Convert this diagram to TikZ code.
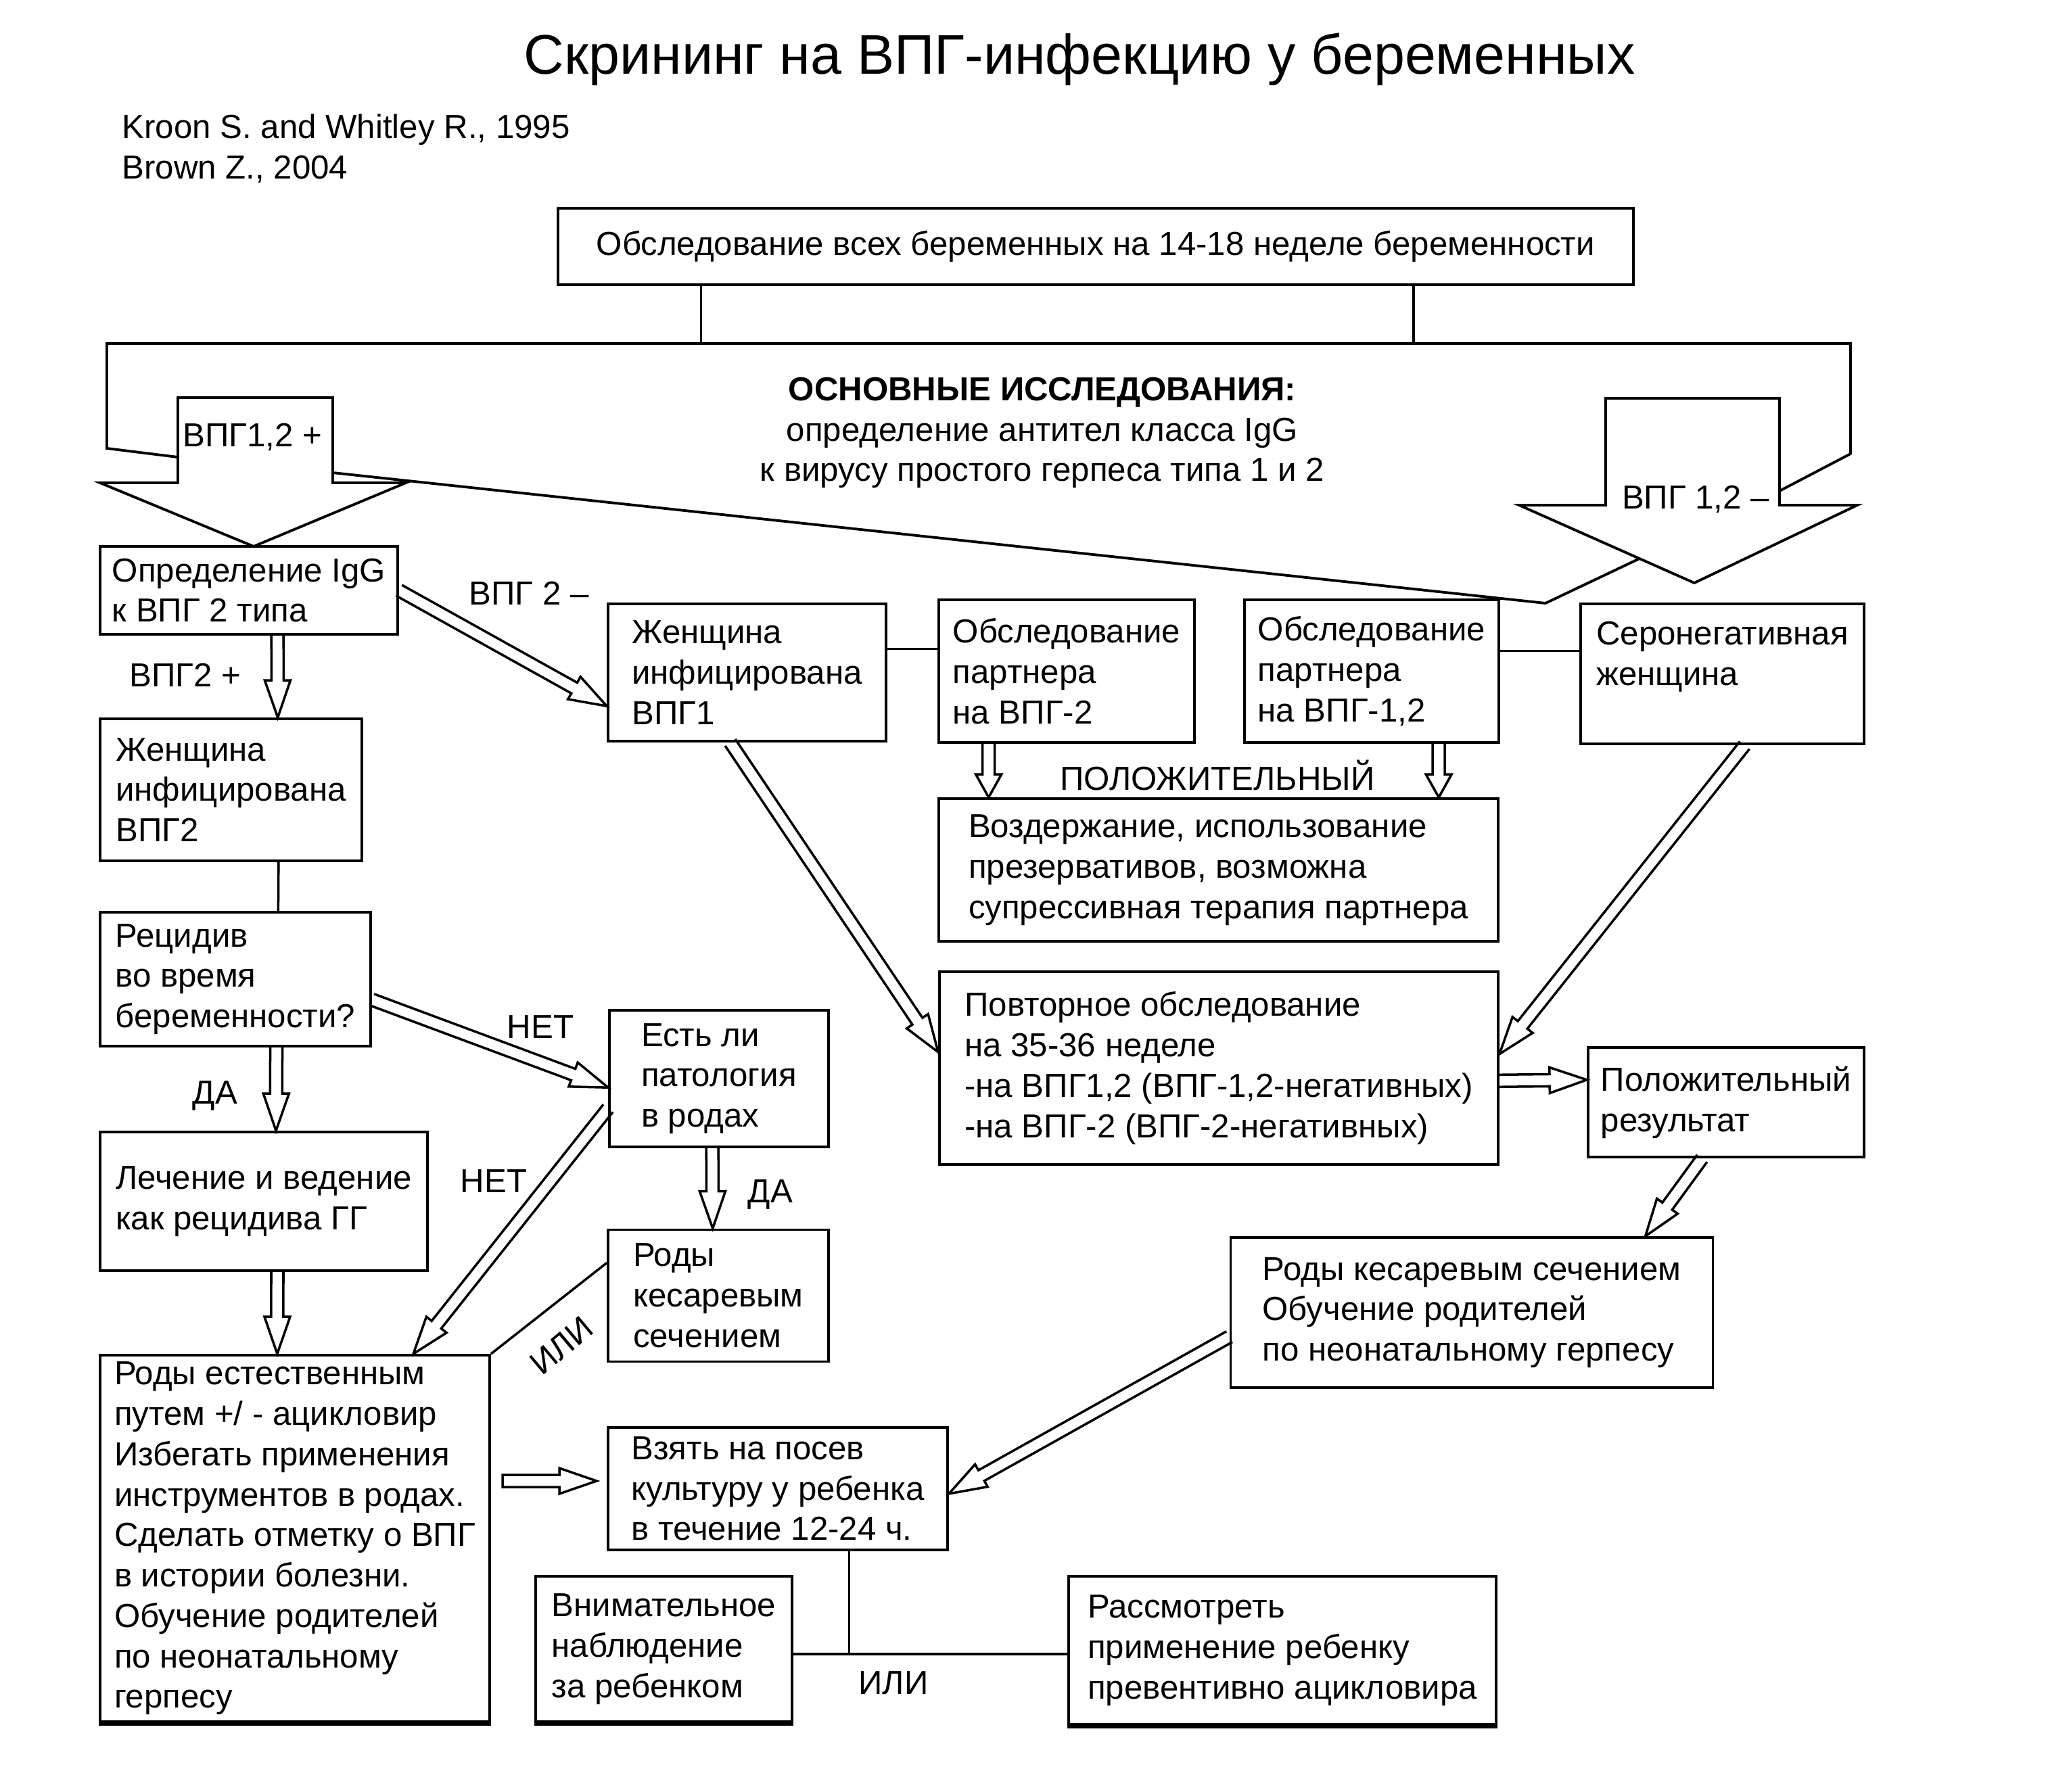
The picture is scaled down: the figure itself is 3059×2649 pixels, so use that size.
\documentclass[tikz,border=0pt]{standalone}
\usepackage{fontspec}
\setmainfont{Liberation Sans}
\usetikzlibrary{calc}

\tikzset{
  bx/.style={draw, line width=1.1pt, align=left, inner xsep=1.5mm, inner ysep=0.5mm},
  sz/.style 2 args={minimum width=#1mm, minimum height=#2mm},
  lbl/.style={inner sep=0pt},
  conn/.style={line width=1pt},
  fatline/.style={line width=1pt, line join=miter},
  frameline/.style={line width=1.1pt, line join=miter},
}
\newcommand{\headlen}{5.5mm}
% hollow arrow: [closing]{from}{to}
\newcommand{\fatarrow}[3][]{%
  \coordinate (fa-h) at ($(#3)!\headlen!(#2)$);
  \draw[fatline] ($(#2)!0.9mm!90:(#3)$) -- ($(fa-h)!0.9mm!-90:(#2)$) -- ($(fa-h)!1.9mm!-90:(#2)$)
    -- (#3) -- ($(fa-h)!1.9mm!90:(#2)$) -- ($(fa-h)!0.9mm!90:(#2)$) -- ($(#2)!0.9mm!-90:(#3)$) #1;}

\begin{document}
\begin{tikzpicture}[x=0.1mm,y=-0.1mm,font=\fontsize{14}{17}\selectfont]
\useasboundingbox (0,0) rectangle (3059,2649);

\node[lbl,font=\fontsize{23.5}{28}\selectfont] (title) at (1596,88) {Скрининг на ВПГ-инфекцию у беременных};
\node[lbl,anchor=west,align=left] (refs) at (180,220) {Kroon S. and Whitley R., 1995\\Brown Z., 2004};

% boxes
\node[bx,sz={159}{11.3},align=center] (screen) at (1620,364.5) {Обследование всех беременных на 14-18 неделе беременности};
\node[bx,sz={44}{13}] (igg) at (368,873) {Определение IgG\\к ВПГ 2 типа};
\node[bx,sz={38.7}{21}] (inf2) at (341.5,1168) {Женщина\\инфицирована\\ВПГ2};
\node[bx,sz={40}{19.8}] (recid) at (348,1448) {Рецидив\\во время\\беременности?};
\node[bx,sz={48.4}{20.5}] (treat) at (390,1776.5) {Лечение и ведение\\как рецидива ГГ};
\node[bx,sz={57.6}{54.2}] (vag) at (436,2275) {Роды естественным\\путем +/ - ацикловир\\Избегать применения\\инструментов в родах.\\Сделать отметку о ВПГ\\в истории болезни.\\Обучение родителей\\по неонатальному\\герпесу};
\node[bx,sz={41.1}{20.3}] (inf1) at (1104.5,994.5) {Женщина\\инфицирована\\ВПГ1};
\node[bx,sz={37.8}{21.1}] (part2) at (1577,992.5) {Обследование\\партнера\\на ВПГ-2};
\node[bx,sz={37.6}{21.1}] (part12) at (2028,992.5) {Обследование\\партнера\\на ВПГ-1,2};
\node[bx,sz={41.9}{20.7}] (seroneg) at (2546.5,996.5) {Серонегативная\\женщина\\~};
\node[bx,sz={82.7}{21.1}] (abst) at (1801.5,1286.5) {Воздержание,  использование\\презервативов, возможна\\супрессивная терапия партнера};
\node[bx,sz={82.6}{28.5}] (retest) at (1802,1579.5) {Повторное обследование\\на 35-36 неделе\\-на ВПГ1,2 (ВПГ-1,2-негативных)\\-на ВПГ-2 (ВПГ-2-негативных)};
\node[bx,sz={40.8}{16.2}] (posres) at (2552,1630) {Положительный\\результат};
\node[bx,sz={32.4}{20.2}] (path) at (1063,1595) {Есть ли\\патология\\в родах};
\node[bx,sz={32.6}{19.5}] (ces) at (1062,1916) {Роды\\кесаревым\\сечением};
\node[bx,sz={50.2}{18.1}] (culture) at (1150,2201.5) {Взять на посев\\культуру у ребенка\\в течение 12-24 ч.};
\node[bx,sz={37.9}{21.5}] (watch) at (981.5,2438.5) {Внимательное\\наблюдение\\за ребенком};
\node[bx,sz={63.2}{21.9}] (consider) at (1896,2440.5) {Рассмотреть\\применение ребенку\\превентивно ацикловира};
\node[bx,sz={71.3}{22.2}] (cesr) at (2176,1941) {Роды кесаревым сечением\\Обучение родителей\\по неонатальному герпесу};
\foreach \b in {vag,watch,consider}
  \draw[line width=2.2pt] (\b.south west) -- (\b.south east);

% frame with the two big arrows
\node[lbl,align=center] (basic) at (1541,640) {\textbf{ОСНОВНЫЕ ИССЛЕДОВАНИЯ:}\\определение антител класса IgG\\к вирусу простого герпеса типа 1 и 2};
\coordinate (fl) at (158,508);
\coordinate (fr) at (2736,508);
\draw[conn] ($(screen.south west)!0.134!(screen.south east)$) coordinate (s1) -- (s1 |- fl);
\draw[conn] ($(screen.south west)!0.795!(screen.south east)$) coordinate (s2) -- (s2 |- fl);
\draw[frameline] (263,676) -- (158,663) -- (fl) -- (fr) -- (2736,671) -- (2631,726);
\draw[frameline] (492,699) -- (2285,892) -- (2424,826);
\draw[frameline] (263,588) -- (492,588) -- (492,714) -- (600,714) -- (375,808) -- (148,714) -- (263,714) -- cycle;
\draw[frameline] (2374,589) -- (2631,589) -- (2631,747) -- (2746,747) -- (2505,862) -- (2246,747) -- (2374,747) -- cycle;
\node[lbl] (pos12) at (373,646) {ВПГ1,2 +};
\node[lbl] (neg12) at (2507,738) {ВПГ 1,2 –};

% plain connectors
\draw[conn] ($(inf2.south west)!0.68!(inf2.south east)$) -- ($(recid.north west)!0.657!(recid.north east)$);
\draw[conn] ($(inf1.north east)!0.33!(inf1.south east)$) coordinate (l1) -- (l1 -| part2.west);
\draw[conn] ($(part12.north east)!0.36!(part12.south east)$) coordinate (l2) -- (l2 -| seroneg.west);
\draw[conn] (vag.north east) -- ($(ces.north west)!0.256!(ces.south west)$);
\coordinate (junc) at ($(watch.north east)!0.535!(watch.south east)$);
\draw[conn] ($(culture.south west)!0.709!(culture.south east)$) coordinate (cb) -- (cb |- junc);
\draw[conn] (junc) -- (junc -| consider.west);

% hollow arrows
\coordinate (a1s) at ($(igg.south west)!0.595!(igg.south east)$);
\coordinate (a1e) at ($(inf2.north west)!0.677!(inf2.north east)$);
\fatarrow{a1s}{a1e}
\coordinate (a2e) at ($(inf1.north west)!0.74!(inf1.south west)$);
\fatarrow{igg.east}{a2e}
\coordinate (a3s) at ($(recid.south west)!0.65!(recid.south east)$);
\coordinate (a3e) at ($(treat.north west)!0.537!(treat.north east)$);
\fatarrow{a3s}{a3e}
\coordinate (a4s) at ($(recid.north east)!0.65!(recid.south east)$);
\coordinate (a4e) at ($(path.north west)!0.564!(path.south west)$);
\fatarrow{a4s}{a4e}
\coordinate (a5s) at ($(path.north west)!0.713!(path.south west)$);
\coordinate (a5e) at ($(vag.north west)!0.802!(vag.north east)$);
\fatarrow{a5s}{a5e}
\coordinate (a6s) at ($(path.south west)!0.47!(path.south east)$);
\coordinate (a6e) at ($(ces.north west)!0.475!(ces.north east)$);
\fatarrow{a6s}{a6e}
\coordinate (a7s) at ($(treat.south west)!0.541!(treat.south east)$);
\coordinate (a7e) at ($(vag.north west)!0.455!(vag.north east)$);
\fatarrow{a7s}{a7e}
\coordinate (a8s) at (743,2190);
\coordinate (a8e) at (882,2190);
\fatarrow[-- cycle]{a8s}{a8e}
\coordinate (a9s) at ($(inf1.south west)!0.44!(inf1.south east)$);
\coordinate (a9e) at ($(retest.north west)!0.418!(retest.south west)$);
\fatarrow{a9s}{a9e}
\coordinate (a10s) at ($(seroneg.south west)!0.578!(seroneg.south east)$);
\coordinate (a10e) at ($(retest.north east)!0.428!(retest.south east)$);
\fatarrow{a10s}{a10e}
\coordinate (a11s) at ($(retest.north east)!0.565!(retest.south east)$);
\coordinate (a11e) at ($(posres.north west)!0.30!(posres.south west)$);
\fatarrow{a11s}{a11e}
\coordinate (a14s) at ($(posres.south west)!0.414!(posres.south east)$);
\coordinate (a14e) at ($(cesr.north west)!0.858!(cesr.north east)$);
\fatarrow{a14s}{a14e}
\coordinate (a15s) at ($(cesr.north west)!0.658!(cesr.south west)$);
\coordinate (a15e) at ($(culture.north east)!0.54!(culture.south east)$);
\fatarrow{a15s}{a15e}
{\renewcommand{\headlen}{3.4mm}
\coordinate (a12s) at ($(part2.south west)!0.198!(part2.south east)$);
\coordinate (a12e) at ($(abst.north west)!0.091!(abst.north east)$);
\fatarrow{a12s}{a12e}
\coordinate (a13s) at ($(part12.south west)!0.761!(part12.south east)$);
\coordinate (a13e) at ($(abst.north west)!0.892!(abst.north east)$);
\fatarrow{a13s}{a13e}}

% labels
\node[lbl] (neg2) at (782,877) {ВПГ 2 –};
\node[lbl] (pos2) at (274,998) {ВПГ2 +};
\node[lbl] (posit) at (1800,1146) {ПОЛОЖИТЕЛЬНЫЙ};
\node[lbl] (no1) at (799,1519) {НЕТ};
\node[lbl] (yes1) at (318,1620) {ДА};
\node[lbl] (no2) at (730,1747) {НЕТ};
\node[lbl] (yes2) at (1139,1766) {ДА};
\node[lbl,rotate=40] (or1) at (830,1990) {ИЛИ};
\node[lbl] (or2) at (1321,2489) {ИЛИ};
\end{tikzpicture}
\end{document}
